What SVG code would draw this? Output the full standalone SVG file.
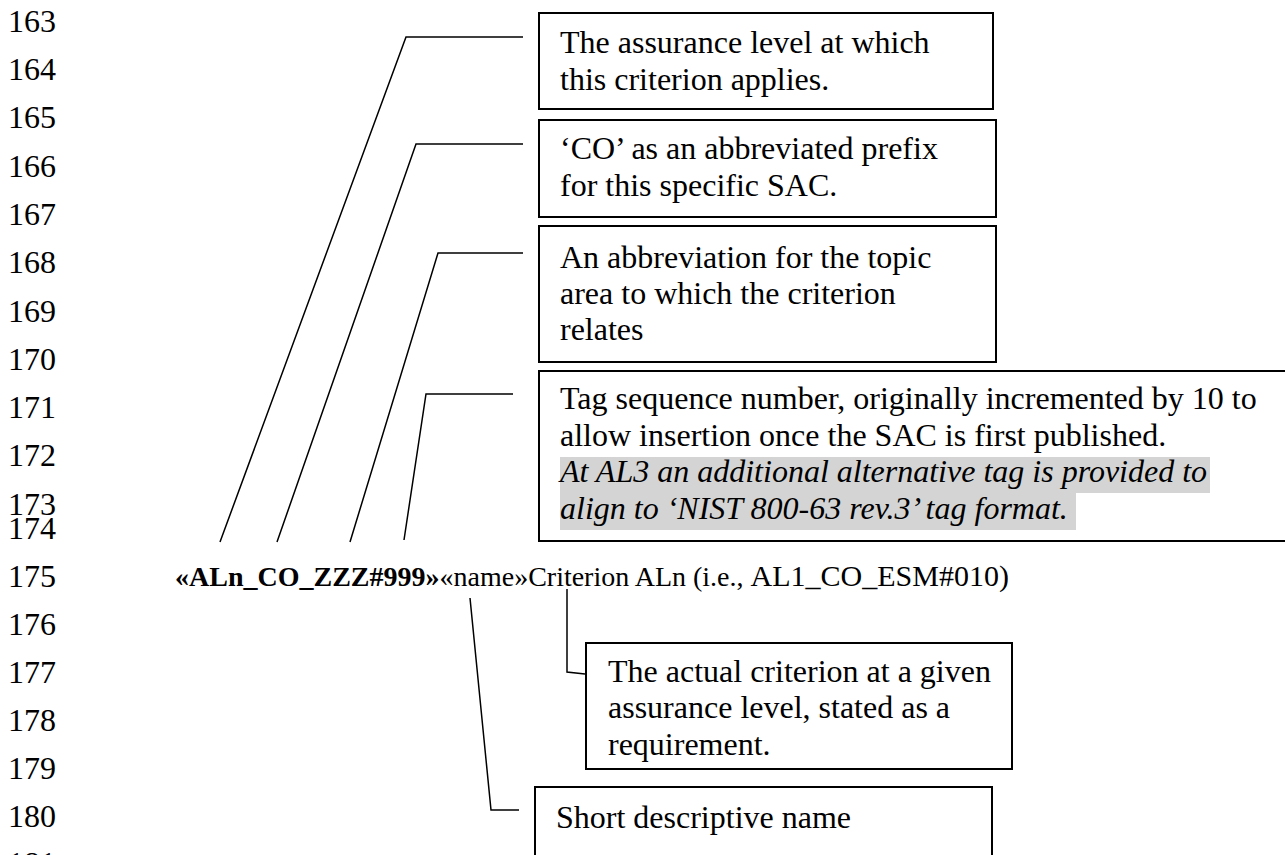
<svg xmlns="http://www.w3.org/2000/svg" width="1285" height="855" viewBox="0 0 1285 855">
<style>
.num{font-family:"Liberation Serif","Times New Roman",serif;font-size:32px;fill:#000}
.bx{fill:#fff;stroke:#000;stroke-width:2}
.t{font-family:"Liberation Serif","Times New Roman",serif;font-size:32px;fill:#000}
.it{font-style:italic}
.hl{fill:#d4d4d4}
.ld{fill:none;stroke:#000;stroke-width:1.5}
.main{font-family:"Liberation Serif","Times New Roman",serif;font-size:28px;fill:#000}
</style>
<rect width="1285" height="855" fill="#fff"/>
<g id="line-numbers" class="num">
<text x="8" y="32">163</text>
<text x="8" y="80">164</text>
<text x="8" y="128">165</text>
<text x="8" y="177">166</text>
<text x="8" y="225">167</text>
<text x="8" y="273">168</text>
<text x="8" y="322">169</text>
<text x="8" y="370">170</text>
<text x="8" y="418">171</text>
<text x="8" y="466">172</text>
<text x="8" y="515">173</text>
<text x="8" y="539">174</text>
<text x="8" y="587">175</text>
<text x="8" y="635">176</text>
<text x="8" y="683">177</text>
<text x="8" y="731">178</text>
<text x="8" y="779">179</text>
<text x="8" y="827">180</text>
<text x="8" y="874">181</text>
</g>
<g id="connectors">
<polyline class="ld" points="220,542 406,37 523,37"/>
<polyline class="ld" points="277,542 416,144 523,144"/>
<polyline class="ld" points="350,542 438,253 523,253"/>
<polyline class="ld" points="404,540 426,394 513,394"/>
<polyline class="ld" points="567,589 567,672 585,674"/>
<polyline class="ld" points="470,598 491,810 519,810"/>
</g>
<g id="tag-line">
<text class="main" x="175" y="586"><tspan font-weight="bold">«ALn_CO_ZZZ#999»</tspan>«name»Criterion ALn (i.e., <tspan font-size="30">AL1_CO_ESM#010)</tspan></text>
</g>
<g id="box-assurance-level">
<rect class="bx" x="539" y="13" width="454" height="96"/>
<text class="t" x="560" y="53">The assurance level at which</text>
<text class="t" x="560" y="90">this criterion applies.</text>
</g>
<g id="box-co-prefix">
<rect class="bx" x="539" y="120" width="457" height="97"/>
<text class="t" x="560" y="159">‘CO’ as an abbreviated prefix</text>
<text class="t" x="560" y="196">for this specific SAC.</text>
</g>
<g id="box-topic-area">
<rect class="bx" x="539" y="226" width="457" height="136"/>
<text class="t" x="560" y="268">An abbreviation for the topic</text>
<text class="t" x="560" y="304">area to which the criterion</text>
<text class="t" x="560" y="340">relates</text>
</g>
<g id="box-tag-sequence">
<rect class="bx" x="539" y="371" width="760" height="170"/>
<rect class="hl" x="560" y="457" width="650" height="36"/>
<rect class="hl" x="560" y="493" width="516" height="37"/>
<text class="t" x="560" y="409">Tag sequence number, originally incremented by 10 to</text>
<text class="t" x="560" y="446">allow insertion once the SAC is first published.</text>
<text class="t it" x="560" y="482">At AL3 an additional alternative tag is provided to</text>
<text class="t it" x="560" y="519">align to ‘NIST 800-63 rev.3’ tag format.</text>
</g>
<g id="box-actual-criterion">
<rect class="bx" x="586" y="643" width="426" height="126"/>
<text class="t" x="608" y="682">The actual criterion at a given</text>
<text class="t" x="608" y="718">assurance level, stated as a</text>
<text class="t" x="608" y="755">requirement.</text>
</g>
<g id="box-short-name">
<rect class="bx" x="535" y="787" width="457" height="90"/>
<text class="t" x="556" y="828">Short descriptive name</text>
</g>
</svg>
